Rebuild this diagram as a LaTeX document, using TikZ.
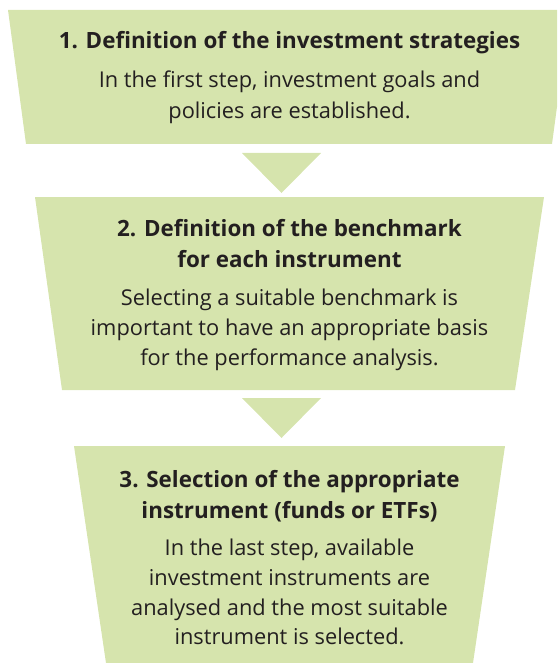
\documentclass[tikz,border=0pt]{standalone}
\usepackage{fontspec}
\setmainfont{Open Sans}
\definecolor{boxgreen}{RGB}{214,228,173}
\definecolor{txt}{RGB}{35,31,32}
\begin{document}
\begin{tikzpicture}[x=1pt,y=-1pt,
  stagebox/.style={fill=boxgreen},
  arrowtri/.style={fill=boxgreen},
  titletext/.style={anchor=base, inner sep=0, text=txt, font=\fontsize{22.4}{26}\selectfont\bfseries},
  bodytext/.style={anchor=base, inner sep=0, text=txt, font=\fontsize{21.8}{26}\selectfont}]
\useasboundingbox (0,0) rectangle (557,663);
\clip (0,0) rectangle (557,663);
% stage shapes
\fill[stagebox] (8,10) -- (570,10) -- (552,144) -- (26,144) -- cycle;
\fill[stagebox] (35,197) -- (544,197) -- (515,390) -- (62,390) -- cycle;
\fill[stagebox] (74,446) -- (505,446) -- (473,663) -- (106,663) -- cycle;
% arrows
\fill[arrowtri] (242,153) -- (321,153) -- (281.5,193) -- cycle;
\fill[arrowtri] (242,398) -- (321,398) -- (281.5,438) -- cycle;
% stage 1
\node[titletext] (t1) at (289.5,49) {1. Definition of the investment strategies};
\node[bodytext] (b1a) at (289.5,88) {In the first step, investment goals and};
\node[bodytext] (b1b) at (289.5,119) {policies are established.};
% stage 2
\node[titletext] (t2a) at (289.5,236) {2. Definition of the benchmark};
\node[titletext] (t2b) at (289.5,267) {for each instrument};
\node[bodytext] (b2a) at (289.5,305) {Selecting a suitable benchmark is};
\node[bodytext] (b2b) at (289.5,335) {important to have an appropriate basis};
\node[bodytext] (b2c) at (289.5,365) {for the performance analysis.};
% stage 3
\node[titletext] (t3a) at (289.5,487) {3. Selection of the appropriate};
\node[titletext] (t3b) at (289.5,518) {instrument (funds or ETFs)};
\node[bodytext] (b3a) at (289.5,555) {In the last step, available};
\node[bodytext] (b3b) at (289.5,585) {investment instruments are};
\node[bodytext] (b3c) at (289.5,615) {analysed and the most suitable};
\node[bodytext] (b3d) at (289.5,644) {instrument is selected.};
\end{tikzpicture}
\end{document}
